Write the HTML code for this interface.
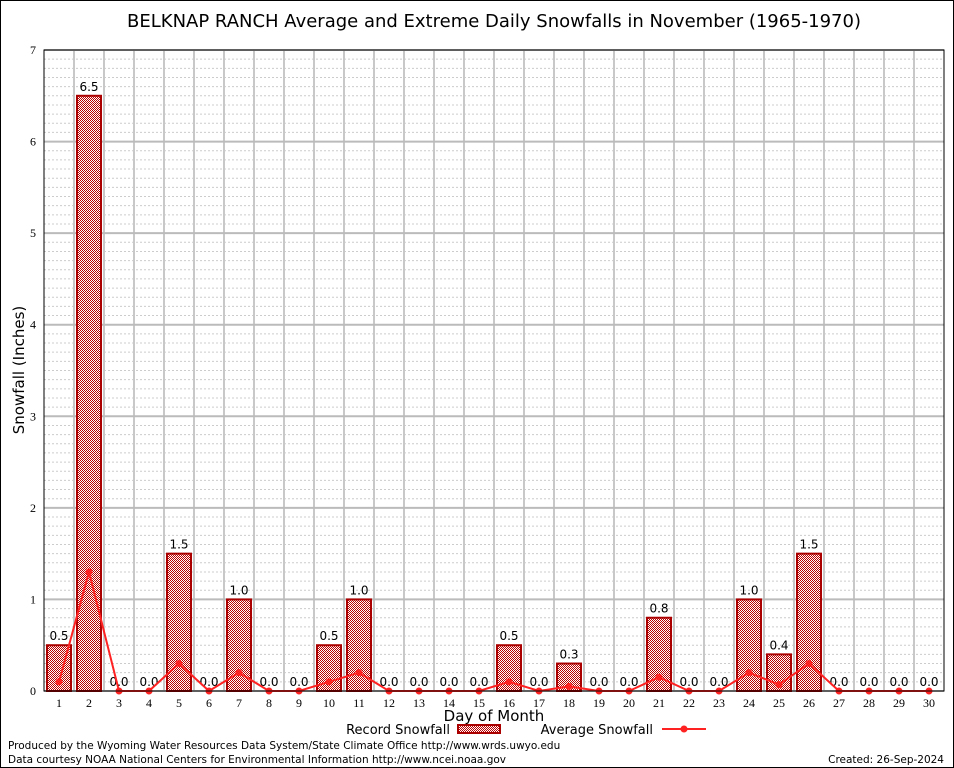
<!DOCTYPE html>
<html><head><meta charset="utf-8"><style>
body{margin:0;background:#fff;}
svg{display:block;font-family:"DejaVu Sans","Liberation Sans",sans-serif;}
</style></head><body>
<svg id="chart" width="954" height="768">
<defs>
<pattern id="hatch" width="2" height="2" patternUnits="userSpaceOnUse">
<rect width="2" height="2" fill="#fff"/>
<rect width="1" height="1" fill="#b00"/><rect x="1" y="1" width="1" height="1" fill="#b00"/>
</pattern>
</defs>
<rect x="0.5" y="0.5" width="953" height="767" fill="#fff" stroke="#000"/>
<text x="494" y="27" font-size="18" text-anchor="middle">BELKNAP RANCH Average and Extreme Daily Snowfalls in November (1965-1970)</text>
<g id="grid"></g>
<g id="bars"></g>
<g id="line"></g>
<rect x="44" y="50" width="900" height="641" fill="none" stroke="#000"/>
<g id="axes"></g>
<text x="24" y="370" font-size="15" text-anchor="middle" transform="rotate(-90 24 370)">Snowfall (Inches)</text>
<text x="494" y="721" font-size="15" text-anchor="middle">Day of Month</text>
<g>
<text x="450" y="734" font-size="13" text-anchor="end">Record Snowfall</text>
<rect x="458" y="725" width="42" height="8" fill="url(#hatch)" stroke="#a00" stroke-width="2"/>
<text x="653" y="734" font-size="13" text-anchor="end">Average Snowfall</text>
<line x1="662" y1="729" x2="706" y2="729" stroke="#f22" stroke-width="2"/>
<circle cx="684" cy="729" r="3.5" fill="#f22"/>
</g>
<text x="8" y="749" font-size="10.5">Produced by the Wyoming Water Resources Data System/State Climate Office http://www.wrds.uwyo.edu</text>
<text x="8" y="763" font-size="10.5">Data courtesy NOAA National Centers for Environmental Information http://www.ncei.noaa.gov</text>
<text x="944" y="763" font-size="10.5" text-anchor="end">Created: 26-Sep-2024</text>
</svg>
<script>
const days = [1,2,3,4,5,6,7,8,9,10,11,12,13,14,15,16,17,18,19,20,21,22,23,24,25,26,27,28,29,30];
const recordSnow = [0.5,6.5,0,0,1.5,0,1.0,0,0,0.5,1.0,0,0,0,0,0.5,0,0.3,0,0,0.8,0,0,1.0,0.4,1.5,0,0,0,0];
const avgSnow = [0.1,1.3,0,0,0.3,0,0.2,0,0,0.1,0.2,0,0,0,0,0.1,0,0.05,0,0,0.15,0,0,0.2,0.07,0.3,0,0,0,0];
const yTicks = [0,1,2,3,4,5,6,7];

const NS='http://www.w3.org/2000/svg';
const L=44,R=944,T=50,B=691,yMax=7;
const xs=d=>L+(d-0.5)*(R-L)/30;
const ys=v=>B-v*(B-T)/yMax;
function mk(tag,attrs,parent){const e=document.createElementNS(NS,tag);for(const k in attrs)e.setAttribute(k,attrs[k]);parent.appendChild(e);return e;}
const grid=document.getElementById('grid'),bars=document.getElementById('bars'),line=document.getElementById('line'),axes=document.getElementById('axes');
for(let v=0.1;v<yMax;v+=0.1){
  if(Math.abs(v-Math.round(v))<0.01)continue;
  const g=mk('line',{x1:L,x2:R,y1:ys(v),y2:ys(v),stroke:'#ccc','stroke-dasharray':'2,2','stroke-width':1},grid);
  
  
}
for(let i=1;i<30;i++){
  const x=L+i*(R-L)/30;
  const g=mk('line',{x1:x,x2:x,y1:T,y2:B,stroke:'#c8c8c8','stroke-width':2},grid);
  
  
}
yTicks.forEach(v=>{
  const g=mk('line',{x1:L,x2:R,y1:ys(v),y2:ys(v),stroke:'#bbb','stroke-width':2},grid);
  
  
  const t=mk('text',{x:L-8,y:ys(v)+4,'font-size':12,'text-anchor':'end','font-family':'Liberation Serif,serif'},axes);
  t.textContent=v;
  
  
});
days.forEach((d,i)=>{
  const x=xs(d),v=recordSnow[i];
  if(v>0){
    const b=mk('rect',{x:x-12,y:ys(v),width:24,height:B-ys(v),fill:'url(#hatch)',stroke:'#a00','stroke-width':2},bars);
    
    
  }
  const t=mk('text',{x:x,y:ys(v)-5,'font-size':12,'text-anchor':'middle'},bars);
  t.textContent=v.toFixed(1);
  
  
  const xl=mk('text',{x:x,y:B+16,'font-size':12,'text-anchor':'middle','font-family':'Liberation Serif,serif'},axes);
  xl.textContent=d;
  
  
});
const p=mk('polyline',{points:days.map((d,i)=>xs(d)+','+ys(avgSnow[i])).join(' '),fill:'none',stroke:'#f22','stroke-width':2},line);


days.forEach((d,i)=>{
  const c=mk('circle',{cx:xs(d),cy:ys(avgSnow[i]),r:3.5,fill:'#f22'},line);
  
  
});
</script>
</body></html>
